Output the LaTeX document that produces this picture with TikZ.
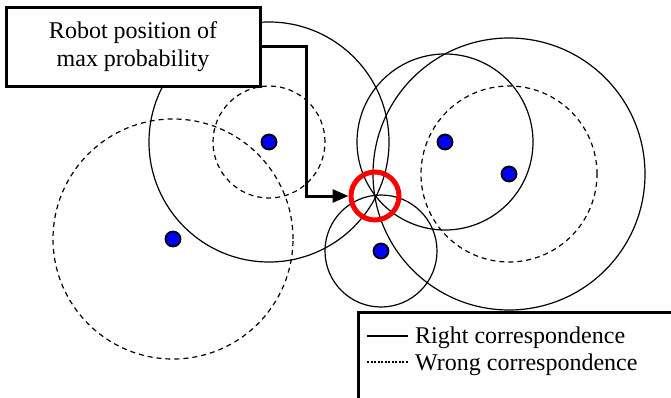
\documentclass[tikz,border=0pt]{standalone}
\usepackage{fontspec}
\setmainfont{Liberation Serif}
\usetikzlibrary{arrows.meta}
\begin{document}
\begin{tikzpicture}[x=1pt,y=-1pt,
  dot/.style={circle,fill=blue,draw=black,line width=1.8pt,minimum size=15pt,inner sep=0pt},
  rightc/.style={draw=black,line width=1.2pt},
  wrongc/.style={draw=black,line width=1.2pt,dash pattern=on 5pt off 4pt},
  maxpos/.style={circle,draw=red,line width=5pt,minimum size=48pt,inner sep=0pt},
  labelbox/.style={draw=black,fill=white,line width=3pt,minimum width=254pt,minimum height=79pt,align=center,inner sep=0pt,font=\fontsize{24}{28}\selectfont},
  legtext/.style={anchor=base west,inner sep=0pt,font=\fontsize{24}{28}\selectfont},
  pointer/.style={line width=3pt,-{Triangle[length=16pt,width=13pt]}}
]
\clip (0,0) rectangle (671,398);
\fill[white] (0,0) rectangle (671,398);
% landmarks
\node[dot] (d1) at (269,142) {};
\node[dot] (d2) at (173,239) {};
\node[dot] (d3) at (445,142) {};
\node[dot] (d4) at (509,174) {};
\node[dot] (d5) at (381,251) {};
% range circles
\draw[rightc] (d1) circle[radius=120pt];
\draw[wrongc] (d1) circle[radius=56pt];
\draw[wrongc] (d2) circle[radius=120pt];
\draw[rightc] (d3) circle[radius=88pt];
\draw[rightc] (d4) circle[radius=136pt];
\draw[wrongc] (d4) circle[radius=88pt];
\draw[rightc] (d5) circle[radius=56pt];
% max probability
\node[maxpos] (mp) at (375,196) {};
% label box
\node[labelbox] (lab) at (133,47) {Robot position of\\max probability};
\draw[pointer] (lab.east) -- ++(45,0) |- (mp.west);
% legend
\node[draw=black,line width=2.5pt,anchor=north west,minimum width=400pt,minimum height=120pt] (legend) at (357,311) {};
\node[legtext] (t1) at (415,343) {Right correspondence};
\node[legtext] (t2) at (415,370) {Wrong correspondence};
\draw[line width=2pt] ([xshift=-48pt,yshift=7pt]t1.base west) -- ++(41,0);
\draw[line width=1.5pt,dash pattern=on 2pt off 1.5pt] ([xshift=-48pt,yshift=8pt]t2.base west) -- ++(41,0);
\end{tikzpicture}
\end{document}
